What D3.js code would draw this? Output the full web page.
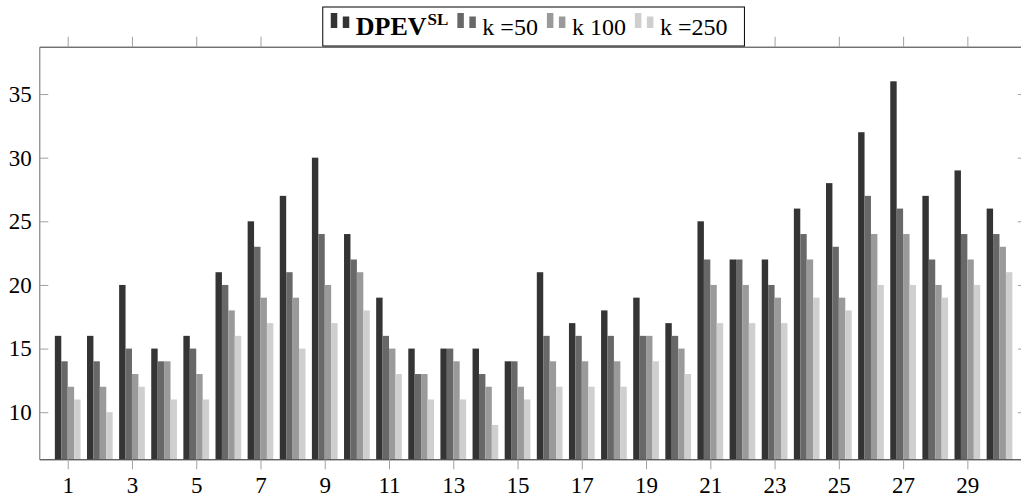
<!DOCTYPE html>
<html>
<head>
<meta charset="utf-8">
<script src="https://cdn.jsdelivr.net/npm/d3@7"></script>
<style>
  body { margin: 0; background: #fff; }
  text { font-family: "Liberation Serif", "Times New Roman", serif; }
</style>
</head>
<body>
<div id="chart"></div>
<script>
// Data
var groups   = d3.range(1, 31);
var dpev     = [16,16,20,15,16,21,25,27,30,24,19,15,15,15,14,21,17,18,19,17,25,22,22,26,28,32,36,27,29,26];
var k50      = [14,14,15,14,15,20,23,21,24,22,16,13,15,13,14,16,16,16,16,16,22,22,20,24,23,27,26,22,24,24];
var k100     = [12,12,13,14,13,18,19,19,20,21,15,13,14,12,12,14,14,14,16,15,20,20,19,22,19,24,24,20,22,23];
var k250     = [11,10,12,11,11,16,17,15,17,18,13,11,11, 9,11,12,12,12,14,13,17,17,17,19,18,20,20,19,20,21];
var seriesNames  = ["DPEV", "k =50", "k 100", "k =250"];
var seriesColors = ["#343434", "#686868", "#9a9a9a", "#cfcfcf"];
var xTicks = [1,3,5,7,9,11,13,15,17,19,21,23,25,27,29];
var yTicks = [10,15,20,25,30,35];

var series = [dpev, k50, k100, k250];

var width = 1021, height = 500;

// axis box (right edge falls just outside the picture)
var boxLeft = 39.3, boxRight = 1027.9, boxTop = 46.7, boxBottom = 459.3;

var x = d3.scaleLinear().domain([0.116, 30.884]).range([boxLeft, boxRight]);
var y = d3.scaleLinear().domain([6.3, 38.72]).range([boxBottom, boxTop]);

var barW = x(0.2) - x(0);

var svg = d3.select("#chart").append("svg")
    .attr("width", width)
    .attr("height", height);

// bars
series.forEach(function(vals, s) {
  svg.append("g")
     .selectAll("rect")
     .data(vals)
     .enter()
     .append("rect")
       .attr("x", function(d, i) { return x(groups[i]) + (s - 2) * barW; })
       .attr("y", function(d) { return y(d); })
       .attr("width", barW)
       .attr("height", function(d) { return boxBottom - y(d); })
       .style("fill", seriesColors[s]);
});

var tickColor = "#a0a0a0";

function styleAxis(g, domainColor) {
  g.attr("font-family", null).attr("font-size", null);
  g.selectAll(".tick line").attr("stroke", tickColor);
  g.select(".domain").attr("stroke", domainColor);
  g.selectAll("text").attr("fill", "#000").style("font-size", "23px");
}

// bottom axis
svg.append("g")
   .attr("transform", "translate(0," + boxBottom + ")")
   .call(d3.axisBottom(x).tickValues(xTicks).tickSize(10).tickSizeOuter(0).tickPadding(7).tickFormat(d3.format("d")))
   .call(styleAxis, "#222");

// top axis, ticks only
svg.append("g")
   .attr("transform", "translate(0," + boxTop + ")")
   .call(d3.axisTop(x).tickValues(xTicks).tickSize(10).tickSizeOuter(0).tickFormat(""))
   .call(styleAxis, "#333");

// left axis, ticks inward
svg.append("g")
   .attr("transform", "translate(" + boxLeft + ",0)")
   .call(d3.axisLeft(y).tickValues(yTicks).tickSize(-9).tickSizeOuter(0).tickPadding(7.5).tickFormat(d3.format("d")))
   .call(styleAxis, "#6a6a6a");

// right axis, ticks inward
svg.append("g")
   .attr("transform", "translate(" + boxRight + ",0)")
   .call(d3.axisRight(y).tickValues(yTicks).tickSize(-10).tickSizeOuter(0).tickFormat(""))
   .call(styleAxis, "#6a6a6a");

// legend, centred on the axis top
var legend = svg.append("g");
var box = legend.append("rect")
    .attr("fill", "#fff")
    .attr("stroke", "#000")
    .attr("stroke-width", 1);

var cursor = 0;
var items = legend.append("g");
seriesNames.forEach(function(name, s) {
  var it = items.append("g").attr("transform", "translate(" + cursor + ",0)");
  it.append("rect").attr("x", 0).attr("y", 13).attr("width", 6.5).attr("height", 15).style("fill", seriesColors[s]);
  it.append("rect").attr("x", 12).attr("y", 16.5).attr("width", 6.5).attr("height", 11.5).style("fill", seriesColors[s]);
  var t = it.append("text")
      .attr("x", 25)
      .attr("y", 35)
      .style("font-size", "24px");
  if (s === 0) {
    t.append("tspan").style("font-weight", "bold").style("font-size", "26px").text(name);
    t.append("tspan").style("font-weight", "bold").style("font-size", "17px")
      .attr("dy", -10).attr("dx", 1).text("SL");
  } else {
    t.text(name);
  }
  var bb = it.node().getBBox();
  cursor += bb.x + bb.width + 9;
});

var itemsW = cursor - 9;
var boxW = itemsW + 8 + 17;
var boxX = (boxLeft + boxRight) / 2 - boxW / 2;
box.attr("x", boxX).attr("y", 7).attr("width", boxW).attr("height", 39);
items.attr("transform", "translate(" + (boxX + 8) + ",0)");
</script>
</body>
</html>
